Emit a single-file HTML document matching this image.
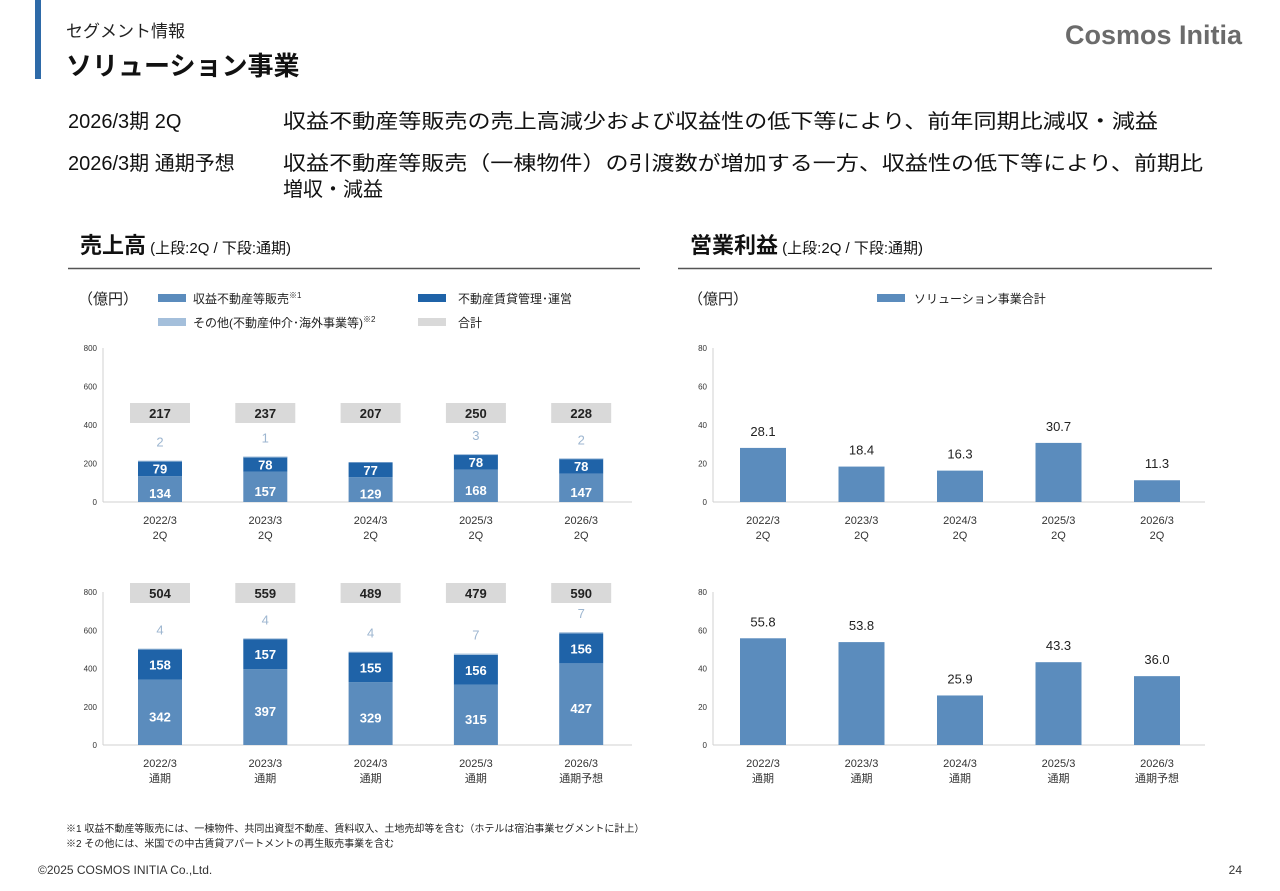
<!DOCTYPE html>
<html><head><meta charset="utf-8"><style>
body{margin:0;background:#fff;width:1280px;height:886px;overflow:hidden;font-family:"Liberation Sans","Noto Sans CJK JP",sans-serif}
svg text{font-family:"Liberation Sans","Noto Sans CJK JP",sans-serif}
</style></head><body>
<svg id="pg" width="1280" height="886" viewBox="0 0 1280 886">
<rect x="35" y="0" width="6" height="79" fill="#2e6aa8"/>
<text x="66" y="37" font-size="17" fill="#222">セグメント情報</text>
<text x="66" y="75" font-size="26" font-weight="bold" fill="#111">ソリューション事業</text>
<text x="1242" y="44" font-size="27" font-weight="bold" fill="#6b6b6b" text-anchor="end">Cosmos Initia</text>
<g font-size="20" fill="#111">
<text x="68" y="128">2026/3期 2Q</text>
<text x="283" y="128" textLength="875" lengthAdjust="spacingAndGlyphs">収益不動産等販売の売上高減少および収益性の低下等により、前年同期比減収・減益</text>
<text x="68" y="170">2026/3期 通期予想</text>
<text x="283" y="170" textLength="920" lengthAdjust="spacingAndGlyphs">収益不動産等販売（一棟物件）の引渡数が増加する一方、収益性の低下等により、前期比</text>
<text x="283" y="196">増収・減益</text>
</g>
<text x="80" y="253" font-size="22" font-weight="bold" fill="#111">売上高<tspan font-size="15" font-weight="normal"> (上段:2Q / 下段:通期)</tspan></text>
<line x1="68" y1="268.5" x2="640" y2="268.5" stroke="#555" stroke-width="1.5"/>
<text x="690" y="253" font-size="22" font-weight="bold" fill="#111">営業利益<tspan font-size="15" font-weight="normal"> (上段:2Q / 下段:通期)</tspan></text>
<line x1="678" y1="268.5" x2="1212" y2="268.5" stroke="#555" stroke-width="1.5"/>
<text x="78" y="304" font-size="15" fill="#222">（億円）</text>
<text x="688" y="304" font-size="15" fill="#222">（億円）</text>
<g font-size="12" fill="#222">
<rect x="158" y="294" width="28" height="8" fill="#5b8cbd"/><text x="193" y="303">収益不動産等販売<tspan font-size="8" dy="-5">※1</tspan></text>
<rect x="418" y="294" width="28" height="8" fill="#1f63a8"/><text x="458" y="303">不動産賃貸管理･運営</text>
<rect x="158" y="318" width="28" height="8" fill="#a4bfdb"/><text x="193" y="327">その他(不動産仲介･海外事業等)<tspan font-size="8" dy="-5">※2</tspan></text>
<rect x="418" y="318" width="28" height="8" fill="#d9d9d9"/><text x="458" y="327">合計</text>
</g>
<g font-size="12" fill="#222">
<rect x="877" y="294" width="28" height="8" fill="#5b8cbd"/><text x="914" y="303">ソリューション事業合計</text>
</g>
<g id="charts"></g>
<g font-size="10" fill="#222">
<text x="66" y="832">※1  収益不動産等販売には、一棟物件、共同出資型不動産、賃料収入、土地売却等を含む（ホテルは宿泊事業セグメントに計上）</text>
<text x="66" y="847">※2  その他には、米国での中古賃貸アパートメントの再生販売事業を含む</text>
</g>
<text x="38" y="874" font-size="12" fill="#333">©2025 COSMOS INITIA Co.,Ltd.</text>
<text x="1242" y="874" font-size="12" fill="#333" text-anchor="end">24</text>
</svg>
<script>
const cats2Q = ["2022/3|2Q","2023/3|2Q","2024/3|2Q","2025/3|2Q","2026/3|2Q"];
const catsFY = ["2022/3|通期","2023/3|通期","2024/3|通期","2025/3|通期","2026/3|通期予想"];
const sales2Q = [134,157,129,168,147];
const rental2Q = [79,78,77,78,78];
const other2Q = [2,1,null,3,2];
const total2Q = [217,237,207,250,228];
const salesFY = [342,397,329,315,427];
const rentalFY = [158,157,155,156,156];
const otherFY = [4,4,4,7,7];
const totalFY = [504,559,489,479,590];
const profit2Q = [28.1,18.4,16.3,30.7,11.3];
const profitFY = [55.8,53.8,25.9,43.3,36.0];
const salesTicks = [0,200,400,600,800];
const profitTicks = [0,20,40,60,80];

const NS="http://www.w3.org/2000/svg";
const root=document.getElementById('charts');
function mk(tag,attrs,parent,txt){const e=document.createElementNS(NS,tag);for(const k in attrs)e.setAttribute(k,attrs[k]);if(txt!==undefined)e.textContent=txt;(parent||root).appendChild(e);return e;}

function axes(g,ax,x0,x1,y0,y1,ticks,max,cats,centers){
  const ys=v=>y0-(v/max)*(y0-y1);
  ticks.forEach(t=>{const tl=mk('text',{x:ax-6,y:ys(t)+3,'font-size':8,fill:'#333','text-anchor':'end'},g,String(t));
    
    });
  const a=mk('line',{x1:ax,y1:y1,x2:ax,y2:y0,stroke:'#d0d0d0'},g);
  
  
  const b=mk('line',{x1:ax,y1:y0,x2:x1,y2:y0,stroke:'#d0d0d0'},g);
  
  
  cats.forEach((c,i)=>{const p=c.split('|');
    const t=mk('text',{x:centers(i),y:y0+22,'font-size':11,fill:'#333','text-anchor':'middle'},g,p[0]);
    
    
    const t2=mk('text',{x:centers(i),y:y0+37,'font-size':11,fill:'#333','text-anchor':'middle'},g,p[1]);
    
    });
  return ys;
}

function salesChart(name,y0,y1,cats,s,r,o,tot,boxY){
  const g=mk('g',{});
  
  
  const cx=i=>160+i*105.3;
  const ys=axes(g,103,103,632,y0,y1,salesTicks,800,cats,cx);
  const h=v=>(v/800)*(y0-y1);
  cats.forEach((c,i)=>{
    const w=44,x=cx(i)-w/2;
    let top=y0-h(s[i]);
    const b1=mk('rect',{x:x,y:top,width:w,height:h(s[i]),fill:'#5b8cbd'},g);
    
    
    const l1=mk('text',{x:cx(i),y:top+h(s[i])/2+9,'font-size':13,'font-weight':'bold',fill:'#fff','text-anchor':'middle'},g,String(s[i]));
    
    
    const rt=top-h(r[i]);
    const b2=mk('rect',{x:x,y:rt,width:w,height:h(r[i]),fill:'#1f63a8'},g);
    
    
    const l2=mk('text',{x:cx(i),y:rt+h(r[i])/2+5,'font-size':13,'font-weight':'bold',fill:'#fff','text-anchor':'middle'},g,String(r[i]));
    
    
    let top3=rt;
    if(o[i]!=null){top3=rt-h(o[i]);
      const b3=mk('rect',{x:x,y:top3,width:w,height:Math.max(h(o[i]),1),fill:'#a4bfdb'},g);
      
      
      const l3=mk('text',{x:cx(i),y:top3-14,'font-size':13,fill:'#9db6d0','text-anchor':'middle'},g,String(o[i]));
      
      }
    const bx=mk('rect',{x:cx(i)-30,y:boxY,width:60,height:20,fill:'#d9d9d9'},g);
    
    
    const lt=mk('text',{x:cx(i),y:boxY+15,'font-size':13,'font-weight':'bold',fill:'#222','text-anchor':'middle'},g,String(tot[i]));
    
    
  });
}
function profitChart(name,y0,y1,cats,vals){
  const g=mk('g',{});
  
  
  const cx=i=>763+i*98.5;
  const ys=axes(g,713,713,1205,y0,y1,profitTicks,80,cats,cx);
  vals.forEach((v,i)=>{
    const b=mk('rect',{x:cx(i)-23,y:ys(v),width:46,height:y0-ys(v),fill:'#5b8cbd'},g);
    
    
    const l=mk('text',{x:cx(i),y:ys(v)-12,'font-size':13,fill:'#222','text-anchor':'middle'},g,v.toFixed(1));
    
    
  });
}
salesChart('sales-2q-chart',502,348,cats2Q,sales2Q,rental2Q,other2Q,total2Q,403);
salesChart('sales-fy-chart',745,592,catsFY,salesFY,rentalFY,otherFY,totalFY,583);
profitChart('profit-2q-chart',502,348,cats2Q,profit2Q);
profitChart('profit-fy-chart',745,592,catsFY,profitFY);
</script>
</body></html>
